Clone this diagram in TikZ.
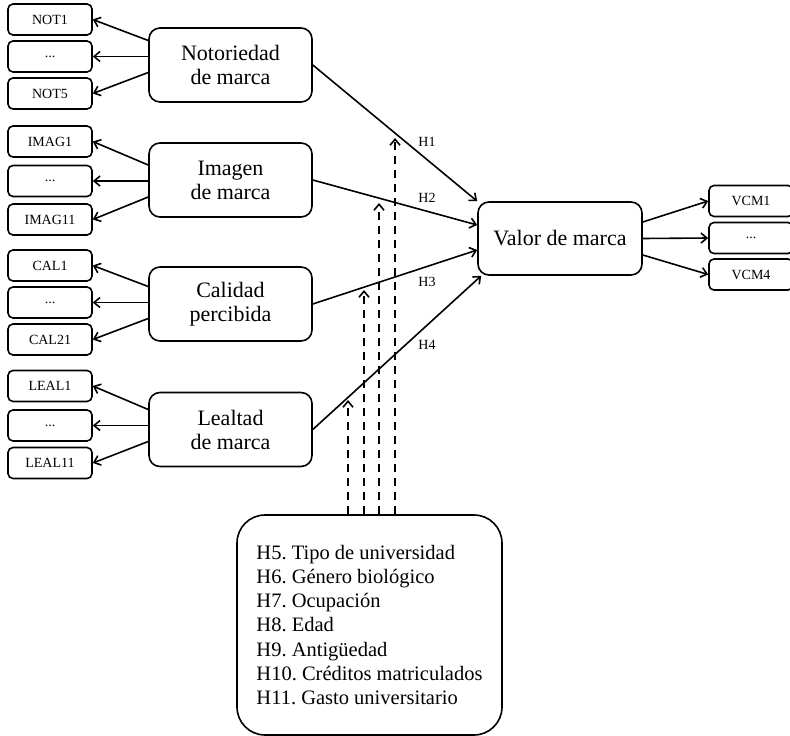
\documentclass[tikz,border=0pt]{standalone}
\usepackage{fontspec}
\setmainfont{Liberation Serif}
\usetikzlibrary{arrows.meta,calc}

\tikzset{
  item/.style={draw, rounded corners=5pt, line width=1.6pt, minimum width=84pt, minimum height=31pt, inner sep=0pt, font=\fontsize{14}{16}\selectfont},
  construct/.style={draw, rounded corners=11pt, line width=1.6pt, minimum width=163pt, minimum height=74pt, align=center, inner sep=0pt, font=\fontsize{22}{24}\selectfont},
  arr/.style={-{Straight Barb[length=6pt,width=10pt]}, line width=1.6pt},
  moder/.style={arr, dash pattern=on 8pt off 6pt},
  hlab/.style={inner sep=0pt, font=\fontsize{14}{16}\selectfont}
}

\begin{document}
\frenchspacing
\begin{tikzpicture}[x=1pt,y=-1pt]
        \useasboundingbox (0,0) rectangle (790,736);

        % Indicators on the left
        \node[item] (not1) at (50,19.5) {NOT1};
        \node[item] (notd) at (50,56.5) {...};
        \node[item] (not5) at (50,93.5) {NOT5};
        \node[item] (imag1) at (50,141.5) {IMAG1};
        \node[item] (imagd) at (50,181) {...};
        \node[item] (imag11) at (50,219.5) {IMAG11};
        \node[item] (cal1) at (50,265.5) {CAL1};
        \node[item] (cald) at (50,302.5) {...};
        \node[item] (cal21) at (50,339.5) {CAL21};
        \node[item] (leal1) at (50,386) {LEAL1};
        \node[item] (leald) at (50,425.5) {...};
        \node[item] (leal11) at (50,463) {LEAL11};

        % Constructs
        \node[construct] (nota) at (230.5,65) {Notoriedad\\de marca};
        \node[construct] (imag) at (230.5,180) {Imagen\\de marca};
        \node[construct] (cal) at (230.5,304) {Calidad\\percibida};
        \node[construct] (leal) at (230.5,429.5) {Lealtad\\de marca};
        \node[construct, minimum width=164pt, minimum height=73pt] (valor) at (560,238.5) {Valor de marca};

        % Indicators on the right
        \node[item] (vcm1) at (751,201) {VCM1};
        \node[item] (vcmd) at (751,238) {...};
        \node[item] (vcm4) at (751,274.5) {VCM4};

        % Reflective arrows
        \draw[arr] ($(nota.west |- notd.east)+(0,-16)$) -- (not1.east);
        \draw[arr] (nota.west |- notd.east) -- (notd.east);
        \draw[arr] ($(nota.west |- notd.east)+(0,16)$) -- (not5.east);
        \draw[arr] ($(imag.west |- imagd.east)+(0,-16)$) -- (imag1.east);
        \draw[arr] (imag.west |- imagd.east) -- (imagd.east);
        \draw[arr] ($(imag.west |- imagd.east)+(0,16)$) -- (imag11.east);
        \draw[arr] ($(cal.west |- cald.east)+(0,-16)$) -- (cal1.east);
        \draw[arr] (cal.west |- cald.east) -- (cald.east);
        \draw[arr] ($(cal.west |- cald.east)+(0,16)$) -- (cal21.east);
        \draw[arr] ($(leal.west |- leald.east)+(0,-16)$) -- (leal1.east);
        \draw[arr] (leal.west |- leald.east) -- (leald.east);
        \draw[arr] ($(leal.west |- leald.east)+(0,16)$) -- (leal11.east);
        \draw[arr] ([yshift=16.5pt]valor.east) -- (vcm1.west);
        \draw[arr] (valor.east) -- (vcmd.west);
        \draw[arr] ([yshift=-16.5pt]valor.east) -- (vcm4.west);

        % Hypotheses H1 to H4
        \draw[arr] (nota.east) -- (valor.north west);
        \draw[arr] (imag.east) -- ([yshift=13.5pt]valor.west);
        \draw[arr] (cal.east) -- ([yshift=-11.5pt]valor.west);
        \draw[arr] (leal.east) -- ([xshift=4pt]valor.south west);
        \node[hlab] (h1) at (427,142) {H1};
        \node[hlab] (h2) at (427,198) {H2};
        \node[hlab] (h3) at (427,282) {H3};
        \node[hlab] (h4) at (427,345) {H4};

        % Moderating variables
        \node[draw, rounded corners=28pt, line width=1.6pt, minimum width=265pt, minimum height=220pt, align=left, inner sep=0pt, font=\fontsize{20.5}{24.2}\selectfont] (ctrl) at (369.5,625)
          {H5. Tipo de universidad\\H6. Género biológico\\H7. Ocupación\\H8. Edad\\H9. Antigüedad\\H10. Créditos matriculados\\H11. Gasto universitario};
        \coordinate (m1) at (348,400);
        \coordinate (m2) at (364,290);
        \coordinate (m3) at (379,203);
        \coordinate (m4) at (395,138);
        \draw[moder] (m1 |- ctrl.north) -- (m1);
        \draw[moder] (m2 |- ctrl.north) -- (m2);
        \draw[moder] (m3 |- ctrl.north) -- (m3);
        \draw[moder] (m4 |- ctrl.north) -- (m4);
    \end{tikzpicture}
\end{document}
